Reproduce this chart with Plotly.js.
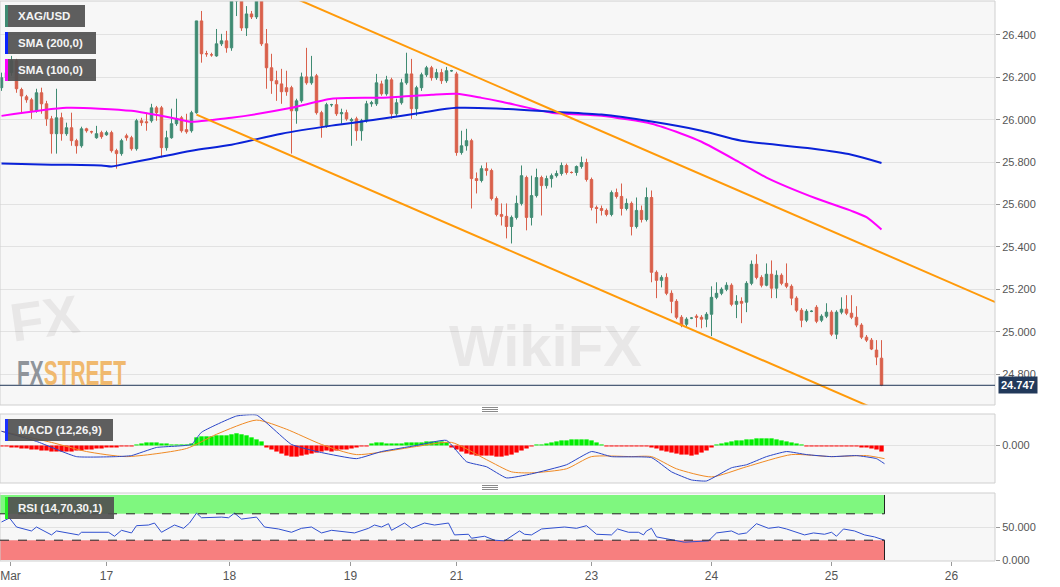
<!DOCTYPE html>
<html>
<head>
<meta charset="utf-8">
<script src="https://cdn.plot.ly/plotly-3.0.1.min.js"></script>
<style>
  html, body { margin: 0; padding: 0; background: #ffffff; }
  #chart { width: 1060px; height: 587px; }
</style>
</head>
<body>
<div id="chart"></div>
<script>
/* ── XAG/USD hourly chart with SMA, MACD and RSI panels ── */

// hourly candles
const candleOpen = [
  26.151, 26.198, 26.222, 26.278, 26.142, 26.108, 26.094, 26.042, 26.127, 26.075,
  26.004, 25.934, 26.009, 25.934, 25.962, 25.901, 25.877, 25.957, 25.943, 25.915,
  25.939, 25.929, 25.939, 25.854, 25.840, 25.924, 25.915, 25.863, 25.995, 25.990,
  25.995, 26.056, 26.056, 25.868, 25.915, 25.981, 26.009, 25.953, 25.948, 26.033,
  26.466, 26.311, 26.306, 26.301, 26.358, 26.372, 26.339, 26.560, 26.598, 26.433,
  26.499, 26.485, 26.584, 26.358, 26.245, 26.184, 26.169, 26.151, 26.151, 26.042,
  26.089, 26.202, 26.174, 26.207, 26.033, 25.971, 26.071, 26.071, 26.028, 26.033,
  25.995, 26.004, 25.948, 25.995, 26.075, 26.075, 26.169, 26.122, 26.188, 26.028,
  26.080, 26.174, 26.216, 26.052, 26.151, 26.212, 26.245, 26.198, 26.222, 26.184,
  26.231, 26.216, 25.845, 25.877, 25.901, 25.722, 25.713, 25.769, 25.760, 25.628,
  25.553, 25.544, 25.496, 25.539, 25.605, 25.727, 25.539, 25.642, 25.727, 25.689,
  25.722, 25.736, 25.746, 25.784, 25.751, 25.751, 25.779, 25.798, 25.718, 25.586,
  25.581, 25.572, 25.553, 25.656, 25.638, 25.581, 25.605, 25.496, 25.572, 25.529,
  25.633, 25.280, 25.242, 25.256, 25.181, 25.143, 25.068, 25.035, 25.064, 25.073,
  25.068, 25.059, 25.082, 25.162, 25.181, 25.200, 25.219, 25.129, 25.143, 25.139,
  25.228, 25.318, 25.256, 25.219, 25.271, 25.205, 25.266, 25.228, 25.214, 25.158,
  25.101, 25.054, 25.096, 25.115, 25.054, 25.073, 25.092, 24.988, 25.092, 25.106,
  25.087, 25.068, 25.031, 24.974, 24.960, 24.913, 24.875
];
const candleHigh = [
  26.222, 26.240, 26.301, 26.287, 26.151, 26.117, 26.103, 26.146, 26.151, 26.089,
  26.018, 26.146, 26.033, 25.986, 26.033, 25.910, 25.967, 25.962, 25.948, 25.971,
  25.948, 25.948, 25.948, 25.863, 25.910, 25.934, 25.924, 26.004, 26.009, 26.033,
  26.075, 26.065, 26.065, 25.948, 26.052, 26.099, 26.018, 26.028, 26.042, 26.428,
  26.513, 26.325, 26.316, 26.428, 26.405, 26.419, 26.584, 26.616, 26.607, 26.536,
  26.513, 26.631, 26.607, 26.428, 26.311, 26.231, 26.240, 26.231, 26.160, 26.099,
  26.222, 26.339, 26.301, 26.216, 26.042, 26.080, 26.075, 26.099, 26.052, 26.047,
  26.009, 26.014, 26.004, 26.089, 26.089, 26.216, 26.184, 26.207, 26.198, 26.099,
  26.193, 26.316, 26.287, 26.160, 26.222, 26.254, 26.254, 26.240, 26.240, 26.249,
  26.235, 26.226, 25.948, 25.957, 25.910, 25.751, 25.784, 25.798, 25.769, 25.638,
  25.605, 25.605, 25.548, 25.642, 25.784, 25.736, 25.736, 25.769, 25.736, 25.736,
  25.746, 25.760, 25.798, 25.793, 25.756, 25.784, 25.826, 25.816, 25.727, 25.595,
  25.595, 25.581, 25.666, 25.675, 25.699, 25.628, 25.614, 25.633, 25.595, 25.680,
  25.666, 25.289, 25.266, 25.275, 25.195, 25.153, 25.078, 25.068, 25.068, 25.082,
  25.078, 25.092, 25.214, 25.233, 25.209, 25.233, 25.228, 25.172, 25.162, 25.238,
  25.336, 25.365, 25.266, 25.322, 25.336, 25.289, 25.275, 25.322, 25.223, 25.167,
  25.111, 25.106, 25.101, 25.125, 25.082, 25.134, 25.101, 25.101, 25.162, 25.172,
  25.172, 25.120, 25.040, 24.984, 24.970, 24.960, 24.960
];
const candleLow = [
  26.136, 26.184, 26.207, 26.127, 26.033, 26.080, 26.004, 26.033, 26.028, 25.971,
  25.840, 25.840, 25.901, 25.924, 25.877, 25.840, 25.868, 25.939, 25.934, 25.910,
  25.910, 25.924, 25.845, 25.769, 25.830, 25.901, 25.854, 25.854, 25.971, 25.948,
  25.986, 25.995, 25.821, 25.854, 25.910, 25.971, 25.939, 25.934, 25.939, 26.028,
  26.269, 26.297, 26.297, 26.297, 26.348, 26.316, 26.325, 26.489, 26.419, 26.395,
  26.475, 26.475, 26.348, 26.146, 26.122, 26.089, 26.075, 26.113, 25.840, 25.981,
  26.080, 26.165, 26.165, 26.024, 25.915, 25.962, 26.061, 26.018, 25.981, 25.995,
  25.877, 25.901, 25.901, 25.986, 26.061, 26.065, 26.113, 26.113, 26.004, 26.018,
  26.071, 26.165, 26.004, 26.018, 26.136, 26.202, 26.184, 26.188, 26.169, 26.174,
  26.226, 25.830, 25.835, 25.854, 25.581, 25.652, 25.704, 25.736, 25.619, 25.544,
  25.501, 25.440, 25.416, 25.529, 25.595, 25.478, 25.501, 25.633, 25.548, 25.675,
  25.680, 25.727, 25.736, 25.741, 25.746, 25.736, 25.769, 25.708, 25.572, 25.511,
  25.548, 25.544, 25.544, 25.628, 25.548, 25.572, 25.454, 25.487, 25.515, 25.520,
  25.233, 25.158, 25.209, 25.172, 25.087, 25.059, 25.021, 25.021, 25.059, 25.021,
  25.016, 25.021, 24.979, 25.153, 25.172, 25.191, 25.120, 25.064, 25.040, 25.092,
  25.219, 25.247, 25.209, 25.214, 25.158, 25.158, 25.219, 25.205, 25.125, 25.092,
  25.021, 25.045, 25.092, 25.040, 25.045, 25.064, 24.979, 24.965, 25.082, 25.078,
  25.059, 25.021, 24.965, 24.951, 24.913, 24.842, 24.743
];
const candleClose = [
  26.198, 26.222, 26.278, 26.146, 26.112, 26.094, 26.042, 26.127, 26.075, 26.004,
  25.934, 26.009, 25.934, 25.962, 25.901, 25.877, 25.957, 25.948, 25.943, 25.934,
  25.920, 25.939, 25.854, 25.840, 25.901, 25.915, 25.863, 25.995, 25.986, 25.986,
  26.056, 26.033, 25.868, 25.915, 25.981, 26.004, 25.948, 25.943, 26.033, 26.466,
  26.311, 26.311, 26.306, 26.358, 26.372, 26.339, 26.560, 26.598, 26.433, 26.499,
  26.485, 26.584, 26.358, 26.245, 26.184, 26.169, 26.132, 26.132, 26.042, 26.089,
  26.202, 26.174, 26.202, 26.033, 25.971, 26.071, 26.071, 26.028, 26.033, 26.004,
  26.000, 25.948, 25.995, 26.075, 26.080, 26.174, 26.122, 26.188, 26.028, 26.080,
  26.174, 26.216, 26.052, 26.151, 26.212, 26.245, 26.198, 26.222, 26.184, 26.231,
  26.231, 25.845, 25.877, 25.901, 25.722, 25.713, 25.769, 25.760, 25.628, 25.553,
  25.544, 25.496, 25.539, 25.605, 25.736, 25.539, 25.642, 25.727, 25.689, 25.722,
  25.736, 25.746, 25.784, 25.751, 25.751, 25.779, 25.798, 25.718, 25.586, 25.581,
  25.572, 25.553, 25.656, 25.638, 25.581, 25.605, 25.496, 25.572, 25.529, 25.633,
  25.280, 25.242, 25.256, 25.181, 25.143, 25.068, 25.031, 25.059, 25.064, 25.068,
  25.059, 25.082, 25.162, 25.181, 25.200, 25.219, 25.129, 25.143, 25.134, 25.228,
  25.318, 25.256, 25.219, 25.271, 25.205, 25.266, 25.228, 25.214, 25.158, 25.101,
  25.054, 25.096, 25.096, 25.049, 25.073, 25.092, 24.988, 25.092, 25.106, 25.087,
  25.068, 25.031, 24.974, 24.960, 24.918, 24.880, 24.747
];
const lastPrice = 24.747;

// moving averages, sampled at candle positions
const sma200X   = [0, 10, 20, 22, 24, 30, 38, 46, 56, 66, 76, 84, 91, 100, 110, 120, 130, 140, 148, 162, 170, 176];
const sma200Val = [25.793, 25.788, 25.784, 25.779, 25.788, 25.816, 25.854, 25.882, 25.934, 25.972, 26.004,
                   26.033, 26.056, 26.052, 26.038, 26.024, 25.991, 25.948, 25.901, 25.864, 25.835, 25.796];
const sma100X   = [0, 13, 26, 35, 38, 42, 46, 58, 66, 76, 86, 91, 96, 100, 110, 120, 130, 136, 140, 147, 153, 163, 170, 173, 176];
const sma100Val = [26.018, 26.056, 26.042, 26.004, 25.990, 25.999, 26.009, 26.056, 26.099, 26.104, 26.118, 26.122,
                   26.103, 26.085, 26.033, 26.019, 25.981, 25.934, 25.896, 25.807, 25.727, 25.628, 25.570, 25.540, 25.482];

// channel trend lines
const upperTrendX = [56, 199];
const upperTrendY = [26.601, 25.137];
const lowerTrendX = [39, 176];
const lowerTrendY = [26.024, 24.622];

// MACD (12,26,9)
const macdHist = [
  -0.005, -0.005, -0.01, -0.01, -0.015, -0.015, -0.02, -0.02, -0.025, -0.025,
  -0.03, -0.03, -0.03, -0.03, -0.03, -0.025, -0.025, -0.02, -0.02, -0.015,
  -0.015, -0.01, -0.01, -0.01, -0.005, -0.005, -0.005,
  0.005, 0.01, 0.015, 0.015, 0.015, 0.01, 0.01, 0.005, 0.005, 0.005, 0.005, 0.01,
  0.04, 0.045, 0.045, 0.045, 0.05, 0.05, 0.05, 0.055, 0.06, 0.055, 0.05, 0.04, 0.03, 0.02,
  -0.01, -0.02, -0.03, -0.04, -0.05, -0.055, -0.055, -0.05, -0.045, -0.04, -0.035,
  -0.03, -0.025, -0.03, -0.025, -0.02, -0.02, -0.015, -0.01, -0.005, -0.005,
  0.01, 0.015, 0.015, 0.01, 0.01, 0.01, 0.01, 0.015, 0.015, 0.015, 0.015, 0.02, 0.02, 0.02, 0.02, 0.015,
  -0.01, -0.02, -0.03, -0.04, -0.045, -0.05, -0.05, -0.05, -0.05, -0.055, -0.055, -0.05, -0.045, -0.035, -0.025, -0.015,
  -0.005,
  0.005, 0.005, 0.01, 0.015, 0.02, 0.025, 0.025, 0.03, 0.03, 0.03, 0.03, 0.025, 0.015, 0.005,
  -0.005, -0.005, -0.005, -0.005, -0.005, -0.005, -0.005, -0.005, -0.005, -0.01,
  -0.015, -0.025, -0.03, -0.035, -0.04, -0.045, -0.045, -0.05, -0.045, -0.035, -0.025, -0.01,
  0.005, 0.01, 0.015, 0.02, 0.025, 0.025, 0.03, 0.03, 0.035, 0.035, 0.035, 0.035, 0.03, 0.025, 0.02, 0.015, 0.01, 0.005,
  -0.005, -0.005, -0.005, -0.005, -0.005, -0.005, -0.005, -0.005, -0.005, -0.005, -0.005, -0.01, -0.01, -0.015, -0.02, -0.03
];
const macdX   = [0, 7, 15, 23, 26, 31, 38, 40, 47, 51, 58, 64, 71, 76, 83, 89, 93, 97, 101, 106,
                 113, 118, 122, 130, 134, 138, 141, 146, 149, 153, 157, 161, 166, 171, 175, 176.6];
const macdVal = [0.07, 0.02, -0.055, -0.055, -0.05, -0.01, 0.005, 0.065, 0.145, 0.15,
                 0.005, -0.035, -0.065, -0.03, 0, 0.025, -0.08, -0.105, -0.16, -0.14,
                 -0.095, -0.03, -0.055, -0.06, -0.13, -0.17, -0.175, -0.11, -0.095, -0.055,
                 -0.03, -0.045, -0.055, -0.05, -0.065, -0.09];
const signalX   = [0, 10, 17, 25, 37, 43, 51, 57, 64, 71, 83, 90, 97, 102, 106, 113, 118, 126, 130, 135,
                   142, 149, 158, 166, 173, 176.6];
const signalVal = [0.07, 0.015, -0.03, -0.055, -0.015, 0.055, 0.125, 0.08, 0.005, -0.045,
                   -0.005, 0.015, -0.07, -0.13, -0.135, -0.115, -0.055, -0.055, -0.055, -0.115,
                   -0.155, -0.105, -0.045, -0.055, -0.05, -0.065];

// RSI (14,70,30,1)
const rsiX = [0, 1.6, 3, 6, 7, 10, 11, 13.4, 15.4, 16, 21.4, 22.6, 24, 26, 27, 29.4, 30.6, 32, 34.6, 36.4,
              37.6, 39, 40, 44, 45.4, 46.6, 48, 51, 52.6, 55.4, 58, 60, 62, 64, 66, 70.6, 73.4, 74.6, 76, 77.4,
              78, 80.6, 82, 84.6, 86.6, 89.4, 90.6, 93.4, 94, 96.6, 98.6, 100.6, 103.6, 104.6, 106, 108, 110, 112.6, 115, 117,
              119, 122, 123.2, 125.4, 127.4, 128.4, 129, 130, 131, 132.6, 136.6, 141.4, 143, 146, 147.4, 149, 151, 153.4, 155.4, 157,
              160.6, 162.4, 164.6, 166, 167, 168.4, 170.6, 172.6, 174.6, 176.6];
const rsiVal = [57.6, 63.6, 50, 44, 50, 38, 44, 41, 38, 42, 42, 36, 45, 41, 52, 53, 56, 42, 53, 48,
                56, 71, 64, 65, 64, 71, 62, 65, 50, 47, 42, 48, 50, 41, 45, 41, 48, 53, 50, 55,
                45, 56, 48, 56, 53, 56, 38, 39, 33, 36, 30, 29, 44, 39, 38, 47, 48, 50, 48, 52,
                39, 38, 47, 42, 42, 38, 44, 48, 35, 33, 27, 29, 41, 44, 39, 41, 55, 48, 50, 47,
                38, 41, 39, 42, 36, 47, 44, 38, 35, 30];
const rsiUpper = 70;
const rsiLower = 30;

// x axis labels (candle positions)
const dayTickPos   = [1.8, 21, 45.6, 69.8, 91, 118, 142, 166, 190];
const dayTickLabel = ['Mar', '17', '18', '19', '21', '23', '24', '25', '26'];

const panelLabels = ['XAG/USD', 'SMA (200,0)', 'SMA (100,0)', 'MACD (12,26,9)', 'RSI (14,70,30,1)'];

/* ── layout helpers (pixel → paper) ── */
const PLOT_W = 995, PLOT_BOTTOM = 561, PLOT_H = 560;
const px = x => x / PLOT_W;
const py = y => (PLOT_BOTTOM - y) / PLOT_H;

const UP_COLOR   = '#3f8b72';
const DOWN_COLOR = '#d9604b';
const AXIS_FONT  = { size: 11, color: '#555', family: 'Liberation Sans, Arial, sans-serif' };

const candleX = candleClose.map((_, i) => i);
const lastIdx = candleClose.length - 1;

const traces = [
  {
    type: 'candlestick',
    x: candleX, open: candleOpen, high: candleHigh, low: candleLow, close: candleClose,
    increasing: { line: { color: UP_COLOR, width: 1 }, fillcolor: UP_COLOR },
    decreasing: { line: { color: DOWN_COLOR, width: 1 }, fillcolor: DOWN_COLOR },
    whiskerwidth: 0,
    xaxis: 'x', yaxis: 'y', hoverinfo: 'skip', showlegend: false,
  },
  {
    type: 'scatter', mode: 'lines', x: sma100X, y: sma100Val,
    line: { color: '#ff00ff', width: 2, shape: 'spline', smoothing: 0.6 },
    xaxis: 'x', yaxis: 'y', hoverinfo: 'skip', showlegend: false,
  },
  {
    type: 'scatter', mode: 'lines', x: sma200X, y: sma200Val,
    line: { color: '#0a22d8', width: 2, shape: 'spline', smoothing: 0.8 },
    xaxis: 'x', yaxis: 'y', hoverinfo: 'skip', showlegend: false,
  },
  {
    type: 'scatter', mode: 'lines', x: upperTrendX, y: upperTrendY,
    line: { color: '#ff9a0a', width: 2 },
    xaxis: 'x', yaxis: 'y', hoverinfo: 'skip', showlegend: false,
  },
  {
    type: 'scatter', mode: 'lines', x: lowerTrendX, y: lowerTrendY,
    line: { color: '#ff9a0a', width: 2 },
    xaxis: 'x', yaxis: 'y', hoverinfo: 'skip', showlegend: false,
  },
  {
    type: 'bar', x: candleX, y: macdHist,
    marker: { color: macdHist.map(v => (v >= 0 ? '#00ee00' : '#ff0000')), line: { width: 0 } },
    xaxis: 'x', yaxis: 'y2', hoverinfo: 'skip', showlegend: false,
  },
  {
    type: 'scatter', mode: 'lines', x: signalX, y: signalVal,
    line: { color: '#f08a24', width: 1, shape: 'spline', smoothing: 0.6 },
    xaxis: 'x', yaxis: 'y2', hoverinfo: 'skip', showlegend: false,
  },
  {
    type: 'scatter', mode: 'lines', x: macdX, y: macdVal,
    line: { color: '#2a46c8', width: 1, shape: 'spline', smoothing: 0.4 },
    xaxis: 'x', yaxis: 'y2', hoverinfo: 'skip', showlegend: false,
  },
  {
    type: 'scatter', mode: 'lines', x: rsiX, y: rsiVal,
    line: { color: '#3050d0', width: 1 },
    xaxis: 'x', yaxis: 'y3', hoverinfo: 'skip', showlegend: false,
  },
];

/* ── shapes: panel borders, RSI bands, price line, label boxes ── */
const shapes = [];
['y', 'y2', 'y3'].forEach(ax => {
  shapes.push({
    type: 'rect', xref: 'paper', yref: ax + ' domain', x0: 0, x1: 1, y0: 0, y1: 1,
    line: { color: '#cfcfcf', width: 1 }, layer: 'above',
  });
});

const bandEnd = lastIdx + 0.6;
shapes.push(
  { type: 'rect', xref: 'x', yref: 'y3', x0: -0.3, x1: bandEnd, y0: rsiUpper, y1: 98.5,
    fillcolor: '#7ff77f', line: { width: 0 }, layer: 'below' },
  { type: 'rect', xref: 'x', yref: 'y3', x0: -0.3, x1: bandEnd, y0: 0, y1: rsiLower,
    fillcolor: '#f77f7f', line: { width: 0 }, layer: 'below' },
  { type: 'line', xref: 'x', yref: 'y3', x0: -0.3, x1: bandEnd, y0: rsiUpper, y1: rsiUpper,
    line: { color: '#222', width: 1, dash: 'dash' } },
  { type: 'line', xref: 'x', yref: 'y3', x0: -0.3, x1: bandEnd, y0: rsiLower, y1: rsiLower,
    line: { color: '#222', width: 1, dash: 'dash' } },
  { type: 'line', xref: 'x', yref: 'y3', x0: bandEnd, x1: bandEnd, y0: rsiUpper, y1: 98.5,
    line: { color: '#222', width: 1 } },
  { type: 'line', xref: 'x', yref: 'y3', x0: bandEnd, x1: bandEnd, y0: 0, y1: rsiLower,
    line: { color: '#222', width: 1 } },
  { type: 'line', xref: 'paper', yref: 'y', x0: 0, x1: 1, y0: lastPrice, y1: lastPrice,
    line: { color: '#1f3556', width: 1 } },
);

// grip handles between panels
[409.5, 487.5].forEach(gy => {
  [-2, 0, 2].forEach(d => {
    shapes.push({ type: 'line', xref: 'paper', yref: 'paper',
      x0: px(482), x1: px(498), y0: py(gy + d), y1: py(gy + d),
      line: { color: '#8a8a8a', width: 1 } });
  });
});

// watermarks (drawn first so the panel labels sit on top)
const annotations = [
  { xref: 'paper', yref: 'paper', x: px(4), y: py(318), xanchor: 'left', yanchor: 'middle', showarrow: false,
    text: '<b>FX</b>', textangle: -8,
    font: { size: 54, color: 'rgba(90,80,80,0.09)', family: 'Liberation Sans, Arial, sans-serif' } },
  { xref: 'paper', yref: 'paper', x: px(545), y: py(345), xanchor: 'center', yanchor: 'middle', showarrow: false,
    text: '<b>WikiFX</b>',
    font: { size: 58, color: 'rgba(90,80,80,0.09)', family: 'Liberation Sans, Arial, sans-serif' } },
  { xref: 'paper', yref: 'paper', x: px(15), y: py(372), xanchor: 'left', yanchor: 'middle', showarrow: false,
    text: '<b><span style="color:#8f949a">FX</span><span style="color:#f0b96e">STREET</span></b>',
    font: { size: 36, family: 'Liberation Sans, Arial, sans-serif' } },
];
const FXSTREET_IDX = 2;

// label boxes at top-left of each panel
const labelBoxes = [
  { x1: 85,  y0: 5,   y1: 27,  stripe: '#3f8b72' },
  { x1: 96,  y0: 32,  y1: 54,  stripe: '#0a22ff' },
  { x1: 96,  y0: 59,  y1: 81,  stripe: '#ff00ff' },
  { x1: 113, y0: 419, y1: 441, stripe: '#1a30ff' },
  { x1: 114, y0: 497, y1: 519, stripe: '#22ee22' },
];
labelBoxes.forEach((b, i) => {
  shapes.push({ type: 'rect', xref: 'paper', yref: 'paper',
    x0: px(5), x1: px(b.x1), y0: py(b.y1), y1: py(b.y0),
    fillcolor: 'rgba(80,80,80,0.92)', line: { width: 0 }, layer: 'above' });
  shapes.push({ type: 'rect', xref: 'paper', yref: 'paper',
    x0: px(5), x1: px(8), y0: py(b.y1), y1: py(b.y0),
    fillcolor: b.stripe, line: { width: 0 }, layer: 'above' });
  annotations.push({
    xref: 'paper', yref: 'paper', x: px(16), y: py((b.y0 + b.y1) / 2),
    xanchor: 'left', yanchor: 'middle', showarrow: false, text: '<b>' + panelLabels[i] + '</b>',
    font: { size: 11.5, color: '#f4f4f4', family: 'Liberation Sans, Arial, sans-serif' },
  });
});

// last price tag
annotations.push({
  xref: 'paper', yref: 'y', x: 1, y: lastPrice, xshift: 3, xanchor: 'left', yanchor: 'middle',
  showarrow: false, text: '<b>' + lastPrice.toFixed(3) + '</b>', bgcolor: '#22395a', borderpad: 2,
  font: { size: 11, color: '#ffffff', family: 'Liberation Sans, Arial, sans-serif' },
});

const layout = {
  width: 1060, height: 587,
  paper_bgcolor: '#ffffff',
  plot_bgcolor: '#f7f7f7',
  margin: { l: 0, r: 65, t: 1, b: 26 },
  showlegend: false,
  bargap: 0.12,
  xaxis: {
    range: [-0.3, 198.7], anchor: 'y3',
    tickvals: dayTickPos, ticktext: dayTickLabel,
    showgrid: false, zeroline: false, showline: false,
    ticks: 'outside', ticklen: 4, tickcolor: '#999',
    tickfont: { size: 12, color: '#555', family: 'Liberation Sans, Arial, sans-serif' },
    rangeslider: { visible: false },
  },
  yaxis: {
    domain: [py(405), 1], anchor: 'x', side: 'right',
    range: [24.654, 26.56], tick0: 24.8, dtick: 0.2, tickformat: '.3f',
    gridcolor: '#e2e2e2', zeroline: false,
    ticks: 'outside', ticklen: 4, tickcolor: '#999', tickfont: AXIS_FONT,
  },
  yaxis2: {
    domain: [py(483), py(414)], anchor: 'x', side: 'right',
    range: [-0.185, 0.155], tickvals: [0], ticktext: ['0.000'],
    gridcolor: '#e2e2e2', zeroline: false,
    ticks: 'outside', ticklen: 4, tickcolor: '#999', tickfont: AXIS_FONT,
  },
  yaxis3: {
    domain: [0, py(493)], anchor: 'x', side: 'right',
    range: [-1.5, 101.5], tickvals: [0, 50], ticktext: ['0.000', '50.000'],
    gridcolor: '#e2e2e2', zeroline: false,
    ticks: 'outside', ticklen: 4, tickcolor: '#999', tickfont: AXIS_FONT,
  },
  shapes: shapes,
  annotations: annotations,
};

Plotly.newPlot('chart', traces, layout, { displayModeBar: false, staticPlot: true }).then(gd => {
  // the FXSTREET logo text is tall and condensed: squeeze it horizontally
  const txt = gd.querySelector('.annotation[data-index="' + FXSTREET_IDX + '"] .annotation-text');
  if (txt) {
    txt.style.transformBox = 'fill-box';
    txt.style.transformOrigin = 'left center';
    txt.style.transform = 'scaleX(0.58)';
  }
});
</script>
</body>
</html>
